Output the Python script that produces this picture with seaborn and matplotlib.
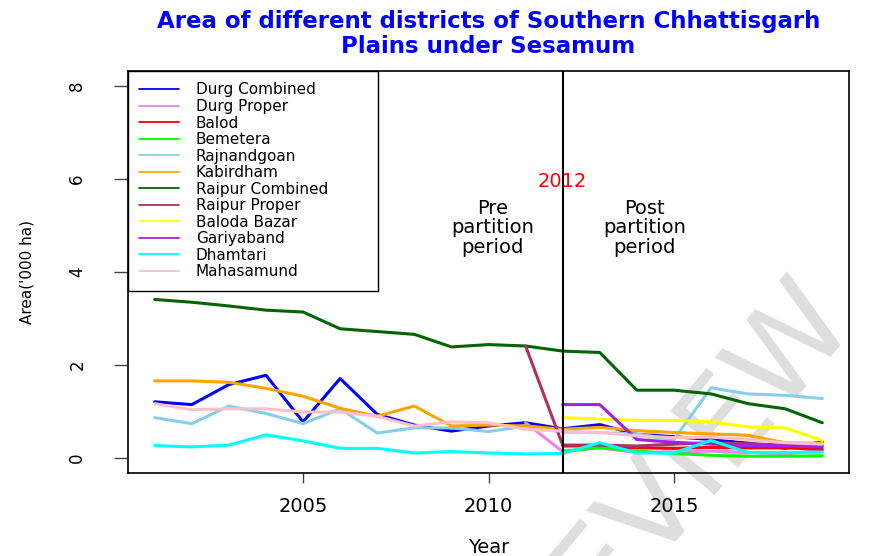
"""
Area under sesamum, districts of the Southern Chhattisgarh Plains,
before and after the 2012 district partition.
"""

import numpy as np
import pandas as pd
import matplotlib
matplotlib.use("Agg")
import matplotlib.pyplot as plt
from matplotlib.lines import Line2D
import seaborn as sns

# ─── Data ('000 ha) ──────────────────────────────────────────────────────────

years = list(range(2001, 2020))

durg_combined   = [1.21, 1.15, 1.58, 1.78, 0.78, 1.71, 0.94, 0.71, 0.58, 0.69,
                   0.76, 0.63, 0.72, 0.51, 0.46, 0.40, 0.32, 0.21, 0.35]
durg_proper     = [None] * 10 + [0.76, 0.14, 0.22, 0.12, 0.13, 0.15, 0.12, 0.09, 0.17]
balod           = [None] * 11 + [0.26, 0.26, 0.22, 0.21, 0.23, 0.22, 0.22, 0.19]
bemetera        = [None] * 11 + [0.15, 0.23, 0.15, 0.10, 0.06, 0.04, 0.04, 0.05]
rajnandgoan     = [0.87, 0.74, 1.12, 0.96, 0.74, 1.06, 0.54, 0.65, 0.65, 0.57,
                   0.69, 0.56, 0.55, 0.52, 0.40, 1.51, 1.38, 1.35, 1.28]
kabirdham       = [1.66, 1.66, 1.63, 1.50, 1.33, 1.07, 0.90, 1.12, 0.69, 0.71,
                   0.69, 0.62, 0.66, 0.59, 0.55, 0.52, 0.49, 0.33, 0.32]
raipur_combined = [3.41, 3.35, 3.27, 3.18, 3.14, 2.78, 2.72, 2.66, 2.39, 2.44,
                   2.41, 2.30, 2.27, 1.46, 1.46, 1.38, 1.17, 1.06, 0.76]
raipur_proper   = [None] * 10 + [2.41, 0.28, 0.28, 0.26, 0.30, 0.33, 0.31, 0.28, 0.27]
baloda_bazar    = [None] * 11 + [0.87, 0.84, 0.81, 0.81, 0.78, 0.67, 0.65, 0.38]
gariyaband      = [None] * 11 + [1.15, 1.15, 0.40, 0.34, 0.30, 0.27, 0.26, 0.24]
dhamtari        = [0.27, 0.24, 0.28, 0.50, 0.37, 0.21, 0.21, 0.11, 0.14, 0.11,
                   0.09, 0.10, 0.33, 0.11, 0.11, 0.38, 0.12, 0.12, 0.13]
mahasamund      = [1.17, 1.04, 1.06, 1.06, 0.99, 0.99, 0.90, 0.69, 0.78, 0.76,
                   0.62, 0.58, 0.55, 0.48, 0.44, 0.45, 0.40, 0.33, 0.30]

districts = ["Durg Combined", "Durg Proper", "Balod", "Bemetera", "Rajnandgoan",
             "Kabirdham", "Raipur Combined", "Raipur Proper", "Baloda Bazar",
             "Gariyaband", "Dhamtari", "Mahasamund"]
series = [durg_combined, durg_proper, balod, bemetera, rajnandgoan, kabirdham,
          raipur_combined, raipur_proper, baloda_bazar, gariyaband, dhamtari,
          mahasamund]
colors = ["#0000FF", "#EE82EE", "#FF0000", "#00FF00", "#87CEEB", "#FFA500",
          "#006400", "#B03060", "#FFFF00", "#A020F0", "#00FFFF", "#FFC0CB"]

partition_year = 2012
x_ticks = [2005, 2010, 2015]
y_ticks = [0, 2, 4, 6, 8]

# ─── Long table for seaborn ──────────────────────────────────────────────────

frames = []
for name, vals in zip(districts, series):
    frames.append(pd.DataFrame({
        "Year": years,
        "Area": [np.nan if v is None else v for v in vals],
        "District": name,
    }))
df = pd.concat(frames, ignore_index=True).dropna()

# ─── Plot ────────────────────────────────────────────────────────────────────

sns.set_style("white")
plt.rcParams["font.family"] = ["DejaVu Sans"]
plt.rcParams.update({
    "text.color": "black",
    "axes.labelcolor": "black",
    "xtick.color": "black",
    "ytick.color": "black",
})

fig = plt.figure(figsize=(8.77, 5.56), dpi=100)
ax = fig.add_axes([128 / 877, 1 - 473 / 556, 721 / 877, 402 / 556])
ax.patch.set_visible(False)

# faint watermark behind everything
fig.text(0.80, 0.20, "EVIEW", rotation=50, fontsize=88, color="#dedede",
         ha="center", va="center", zorder=-1)

palette = dict(zip(districts, colors))
sns.lineplot(data=df, x="Year", y="Area", hue="District", hue_order=districts,
             palette=palette, linewidth=2.2, legend=False, estimator=None,
             sort=True, ax=ax)

ax.axvline(partition_year, color="black", linewidth=1.5)

ax.text(partition_year, 5.95, str(partition_year), color="red", fontsize=14,
        ha="center", va="center")
ax.text(2010.1, 4.95, "Pre\npartition\nperiod", fontsize=14, ha="center",
        va="center", linespacing=1.05)
ax.text(2014.2, 4.95, "Post\npartition\nperiod", fontsize=14, ha="center",
        va="center", linespacing=1.05)

ax.set_xlim(2000.28, 2019.72)
ax.set_ylim(-0.32, 8.32)
ax.set_xticks(x_ticks)
ax.set_yticks(y_ticks)
ax.set_xticklabels([str(t) for t in x_ticks])
ax.set_yticklabels([str(t) for t in y_ticks], rotation=90, va="center")

ax.tick_params(axis="x", length=7, width=1, pad=10, labelsize=14,
               color="#444444", labelcolor="black", bottom=True)
ax.tick_params(axis="y", length=10, width=1, pad=20, labelsize=12,
               color="#444444", labelcolor="black", left=True)

for sp in ax.spines.values():
    sp.set_visible(True)
    sp.set_color("black")
    sp.set_linewidth(1.2)

ax.set_xlabel("Year", fontsize=14, color="black")
ax.set_ylabel("Area('000 ha)", fontsize=11, color="black")
ax.xaxis.set_label_coords(0.5, -0.162)
ax.yaxis.set_label_coords(-0.13, 0.5)

ax.set_title("Area of different districts of Southern Chhattisgarh\n"
             "Plains under Sesamum", color="blue", fontweight="bold",
             fontsize=16.5, pad=13, linespacing=1.12)

handles = [Line2D([0], [0], color=c, lw=1.3) for c in colors]
leg = ax.legend(handles, districts, loc="upper left",
                bbox_to_anchor=(0, 0, 250 / 721, 1), mode="expand",
                borderaxespad=0, fontsize=11, labelspacing=0.1,
                handlelength=2.6, handletextpad=1.1, borderpad=0.75,
                fancybox=False, framealpha=1, edgecolor="black")
leg.get_frame().set_linewidth(1.0)
for t in leg.get_texts():
    t.set_color("black")

fig.savefig("out.png", dpi=100)
